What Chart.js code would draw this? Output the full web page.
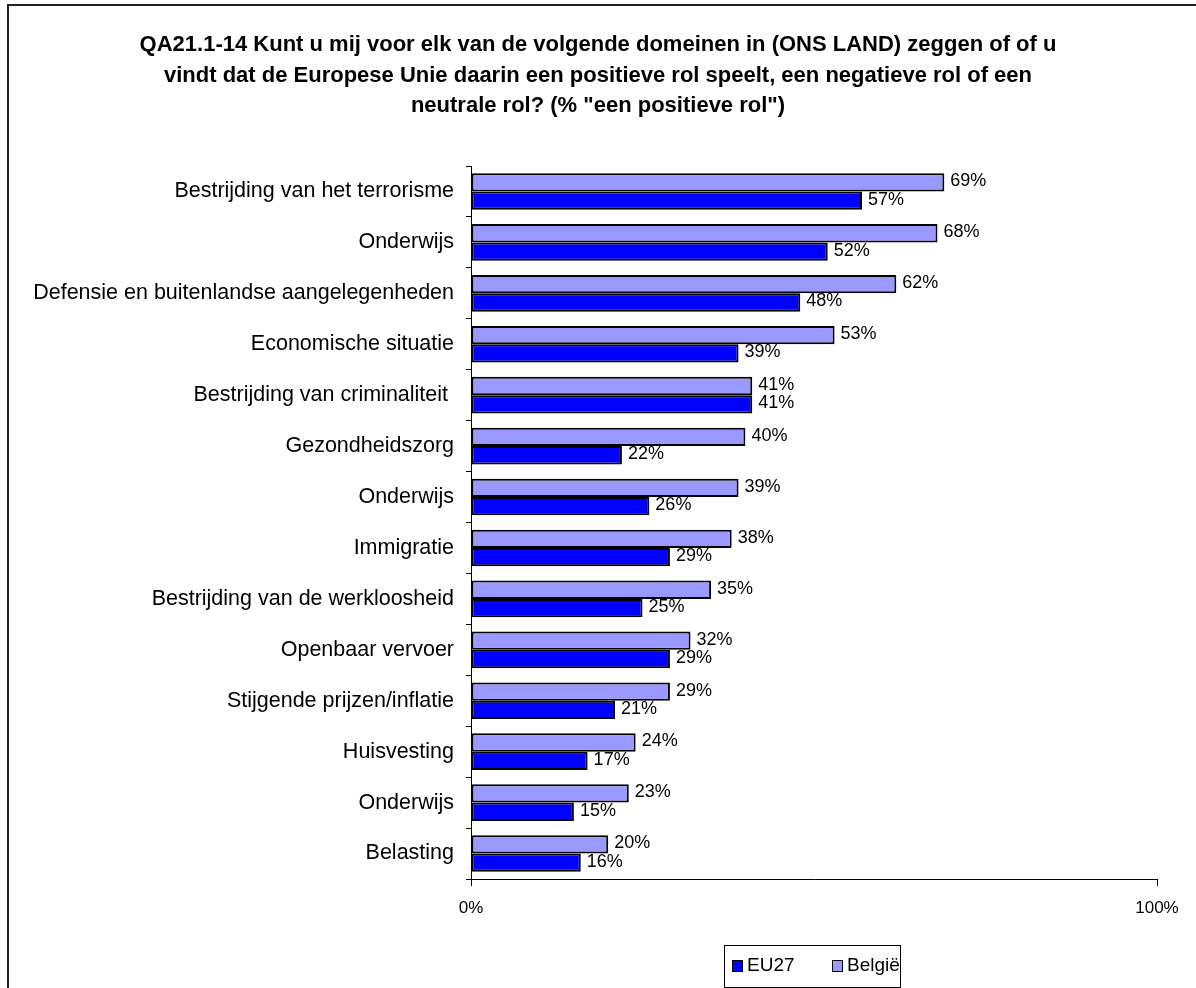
<!DOCTYPE html>
<html>
<head>
<meta charset="utf-8">
<script src="https://cdn.jsdelivr.net/npm/chart.js@4/dist/chart.umd.min.js"></script>
<style>
  html, body { margin: 0; padding: 0; background: #fff; }
  #wrap { width: 1196px; height: 988px; position: relative; }
</style>
</head>
<body>
<div id="wrap"><canvas id="chart" width="1196" height="988"></canvas></div>
<script>
// data
const categories = [
  "Bestrijding van het terrorisme",
  "Onderwijs",
  "Defensie en buitenlandse aangelegenheden",
  "Economische situatie",
  "Bestrijding van criminaliteit ",
  "Gezondheidszorg",
  "Onderwijs",
  "Immigratie",
  "Bestrijding van de werkloosheid",
  "Openbaar vervoer",
  "Stijgende prijzen/inflatie",
  "Huisvesting",
  "Onderwijs",
  "Belasting"
];
const belgie = [69, 68, 62, 53, 41, 40, 39, 38, 35, 32, 29, 24, 23, 20];
const eu27 = [57, 52, 48, 39, 41, 22, 26, 29, 25, 29, 21, 17, 15, 16];
const titleLines = [
  "QA21.1-14 Kunt u mij voor elk van de volgende domeinen in (ONS LAND) zeggen of of u",
  "vindt dat de Europese Unie daarin een positieve rol speelt, een negatieve rol of een",
  "neutrale rol? (% \"een positieve rol\")"
];
const xTicks = ["0%", "100%"];

const FONT = "'Liberation Sans', Arial, sans-serif";

// frame, title, value labels and legend box
const extras = {
  id: "extras",
  beforeDraw(chart) {
    const ctx = chart.ctx;
    ctx.save();
    ctx.fillStyle = "#fff";
    ctx.fillRect(0, 0, chart.width, chart.height);
    ctx.strokeStyle = "#222";
    ctx.lineWidth = 2;
    ctx.beginPath();
    ctx.moveTo(8, 990);
    ctx.lineTo(8, 5);
    ctx.lineTo(1200, 5);
    ctx.stroke();
    ctx.restore();
  },
  afterDatasetsDraw(chart) {
    const ctx = chart.ctx;
    ctx.save();
    ctx.font = "18px " + FONT;
    ctx.fillStyle = "#000";
    ctx.textAlign = "left";
    ctx.textBaseline = "middle";
    chart.data.datasets.forEach(function (ds, i) {
      chart.getDatasetMeta(i).data.forEach(function (bar, j) {
        ctx.fillText(ds.data[j] + "%", bar.x + 6, bar.y - 1);
      });
    });
    ctx.restore();
  },
  afterDraw(chart) {
    const ctx = chart.ctx;
    ctx.save();
    // title
    ctx.font = "bold 22px " + FONT;
    ctx.fillStyle = "#000";
    ctx.textAlign = "center";
    ctx.textBaseline = "middle";
    titleLines.forEach(function (line, i) {
      ctx.fillText(line, 598, 45 + i * 30.5);
    });
    // legend
    ctx.strokeStyle = "#000";
    ctx.lineWidth = 1;
    ctx.strokeRect(724.5, 945.5, 176, 42);
    const items = [["EU27", "#0000FF", 732], ["België", "#9999FF", 832]];
    ctx.font = "19px " + FONT;
    ctx.textAlign = "left";
    items.forEach(function (it) {
      ctx.fillStyle = it[1];
      ctx.fillRect(it[2], 960, 10, 11);
      ctx.strokeRect(it[2] + 0.5, 960.5, 10, 11);
      ctx.fillStyle = "#000";
      ctx.fillText(it[0], it[2] + 15, 966);
    });
    ctx.restore();
  }
};

new Chart(document.getElementById("chart"), {
  type: "bar",
  data: {
    labels: categories,
    datasets: [
      {
        label: "België",
        data: belgie,
        backgroundColor: "#9999FF",
        borderColor: "#000",
        borderWidth: 2,
        borderSkipped: false
      },
      {
        label: "EU27",
        data: eu27,
        backgroundColor: "#0000FF",
        borderColor: "#000",
        borderWidth: 2,
        borderSkipped: false
      }
    ]
  },
  options: {
    indexAxis: "y",
    responsive: false,
    animation: false,
    categoryPercentage: 0.72,
    barPercentage: 1.0,
    layout: { padding: { top: 166, left: 0, right: 39, bottom: 0 } },
    plugins: {
      legend: { display: false },
      title: { display: false },
      tooltip: { enabled: false }
    },
    scales: {
      x: {
        min: 0,
        max: 100,
        afterFit: function (scale) { scale.height = 109; },
        afterBuildTicks: function (scale) {
          scale.ticks = [{ value: 0 }, { value: 100 }];
        },
        ticks: {
          color: "#000",
          font: { family: FONT, size: 17 },
          padding: 12,
          maxRotation: 0,
          callback: function (v, i) { return xTicks[i]; }
        },
        grid: { drawOnChartArea: false, color: "#000", tickLength: 7 },
        border: { color: "#000", width: 1 }
      },
      y: {
        afterFit: function (scale) { scale.width = 471; },
        ticks: {
          color: "#000",
          font: { family: FONT, size: 21.5 },
          padding: 12
        },
        grid: { drawOnChartArea: false, color: "#000", tickLength: 5, offset: true },
        border: { color: "#000", width: 1 }
      }
    }
  },
  plugins: [extras]
});
</script>
</body>
</html>
